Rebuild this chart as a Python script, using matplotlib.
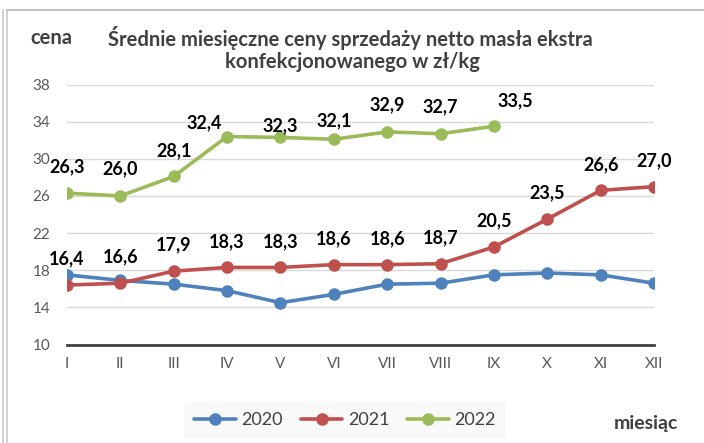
import matplotlib
matplotlib.use('Agg')
import matplotlib.pyplot as plt
from matplotlib.lines import Line2D

plt.rcParams.update({
    'font.family': ['Lato', 'DejaVu Sans'],
    'axes.linewidth': 0.8,
})

months = ['I', 'II', 'III', 'IV', 'V', 'VI', 'VII', 'VIII', 'IX', 'X', 'XI', 'XII']
price_2020 = [17.5, 16.9, 16.5, 15.8, 14.5, 15.4, 16.5, 16.6, 17.5, 17.7, 17.5, 16.6]
price_2021 = [16.4, 16.6, 17.9, 18.3, 18.3, 18.6, 18.6, 18.7, 20.5, 23.5, 26.6, 27.0]
price_2022 = [26.3, 26.0, 28.1, 32.4, 32.3, 32.1, 32.9, 32.7, 33.5]

COL_2020 = '#4f81bd'
COL_2021 = '#c0504d'
COL_2022 = '#9bbb59'
TXT = '#404040'
TICK = '#595959'

# label offsets in pixels (dx, dy) above the point; tweaks where labels were moved
off_2021 = [(0, 26)] * 12
off_2022 = [(0, 26), (0, 27), (0, 26), (-23, 14), (0, 12), (0, 19), (0, 27), (0, 27), (21, 26)]

W, H = 704, 443
fig = plt.figure(figsize=(W / 100, H / 100), dpi=100)
fig.patch.set_facecolor('white')

# axes box in pixels: x 67..654, y 84.5..344.5 (from top)
ax = fig.add_axes([67 / W, (H - 344.5) / H, (654 - 67) / W, (344.5 - 84.5) / H])

x = list(range(len(months)))
kw = dict(lw=2.6, marker='o', ms=8, solid_capstyle='round', zorder=3)
ax.plot(x, price_2020, color=COL_2020, label='2020', **kw)
ax.plot(x, price_2021, color=COL_2021, label='2021', **kw)
ax.plot(x[:len(price_2022)], price_2022, color=COL_2022, label='2022', **kw)

px = 72 / 100
for xi, v, (dx, dy) in zip(x, price_2021, off_2021):
    ax.annotate(f'{v:.1f}'.replace('.', ','), (xi, v), xytext=(dx * px, dy * px),
                textcoords='offset points', ha='center', va='center',
                fontsize=13, fontweight='bold', color='black', zorder=5)
for xi, v, (dx, dy) in zip(x, price_2022, off_2022):
    ax.annotate(f'{v:.1f}'.replace('.', ','), (xi, v), xytext=(dx * px, dy * px),
                textcoords='offset points', ha='center', va='center',
                fontsize=13, fontweight='bold', color='black', zorder=5)

ax.set_xlim(0, 11)
ax.set_ylim(10, 38)
ax.set_yticks(range(10, 39, 4))
ax.set_xticks(x)
ax.set_xticklabels(months)
ax.tick_params(axis='both', length=0, labelsize=11, labelcolor=TICK)
ax.tick_params(axis='y', pad=12)
ax.tick_params(axis='x', pad=9)
ax.grid(True, axis='y', color='#d9d9d9', lw=1.0, zorder=0)
ax.set_axisbelow(True)
for s in ['top', 'right', 'left']:
    ax.spines[s].set_visible(False)
ax.spines['bottom'].set_color(TXT)
ax.spines['bottom'].set_linewidth(2.0)
ax.spines['bottom'].set_zorder(2)
ax.patch.set_alpha(0)

# titles
fig.text(30 / W, 1 - 38 / H, 'cena', fontsize=14.5, fontweight='bold', color=TXT,
         ha='left', va='center')
fig.text(350 / W, 1 - 38 / H, 'Średnie miesięczne ceny sprzedaży netto masła ekstra',
         fontsize=14.5, fontweight='bold', color=TXT, ha='center', va='center')
fig.text(352 / W, 1 - 62 / H, 'konfekcjonowanego w zł/kg',
         fontsize=14.5, fontweight='bold', color=TXT, ha='center', va='center')
fig.text(614 / W, 1 - 424 / H, 'miesiąc', fontsize=14, fontweight='bold', color=TXT,
         ha='left', va='center')

leg = fig.legend(loc='center', bbox_to_anchor=(345 / W, 1 - 420 / H), ncol=3,
                 frameon=True, fontsize=13, handlelength=2.3, columnspacing=1.0,
                 handletextpad=0.3, borderpad=0.5, fancybox=False)
leg.get_frame().set_facecolor('#f8f8f8')
leg.get_frame().set_edgecolor('#f8f8f8')
for t in leg.get_texts():
    t.set_color(TXT)

# outer frame lines
fig.add_artist(Line2D([3 / W, 3 / W], [0, 1 - 10 / H], color='#c8c8c8', lw=1.2))
fig.add_artist(Line2D([7 / W, 7 / W], [0, 1 - 10 / H], color='#c8c8c8', lw=1.2))
fig.add_artist(Line2D([7 / W, 1], [1 - 10 / H, 1 - 10 / H], color='#c0c0c0', lw=1.5))

fig.savefig('out.png', dpi=100, facecolor='white')
